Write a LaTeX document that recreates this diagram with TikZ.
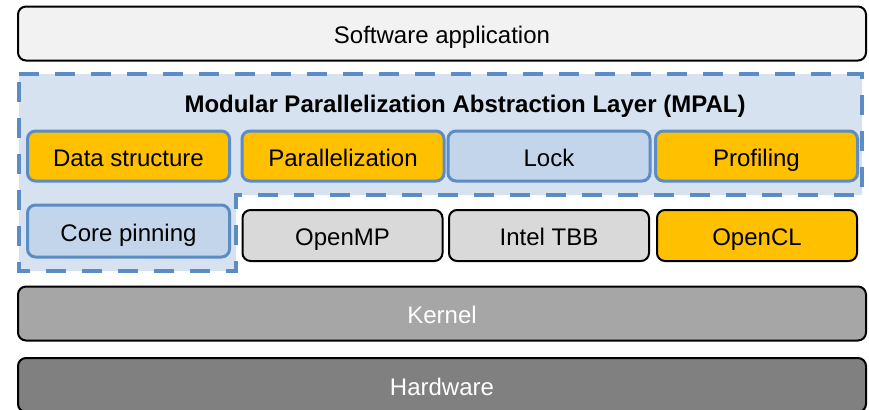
\documentclass[tikz,border=0pt]{standalone}
\usepackage{fontspec}
\setmainfont{Liberation Sans}
\definecolor{mpalline}{HTML}{5B8DC4}
\definecolor{mpalfill}{HTML}{D6E2F0}
\definecolor{lockfill}{HTML}{C3D5EA}
\definecolor{gold}{HTML}{FFC000}
\tikzset{
  boxtext/.style={font=\fontsize{12}{14}\selectfont, text height=12pt, text depth=2pt},
  layer/.style={boxtext, rectangle, rounded corners=4pt, draw=black, line width=1pt, minimum width=424pt, minimum height=27pt},
  mpalbox/.style={boxtext, rectangle, rounded corners=4pt, draw=mpalline, line width=1.5pt, minimum width=101pt, minimum height=25pt},
  libbox/.style={boxtext, rectangle, rounded corners=4pt, draw=black, line width=1pt, minimum width=100pt, minimum height=25.5pt},
}
\begin{document}
\begin{tikzpicture}[x=0.5pt, y=-0.5pt]
\useasboundingbox (0,0) rectangle (869,409);
% MPAL region
\path[fill=mpalfill, draw=mpalline, line width=2pt, dash pattern=on 10pt off 8pt]
  (19,74) -- (862,74) -- (862,195) -- (236,195) -- (236,271) -- (19,271) -- cycle;
\node[font=\bfseries\fontsize{12}{14}\selectfont] (Title) at (465,106) {Modular Parallelization Abstraction Layer (MPAL)};

\node[layer, fill=black!5] (App) at (442,33.5) {Software application};

\node[mpalbox, fill=gold] (Data) at (128.5,156) {Data structure};
\node[mpalbox, fill=gold] (Par) at (343,156) {Parallelization};
\node[mpalbox, fill=lockfill] (Lock) at (549,156) {Lock};
\node[mpalbox, fill=gold] (Prof) at (756.5,156) {Profiling};
\node[mpalbox, fill=lockfill, minimum height=26pt] (Pin) at (128.5,231) {Core pinning};

\node[libbox, fill=black!15] (OMP) at (342.5,235.5) {OpenMP};
\node[libbox, fill=black!15] (TBB) at (549,235.5) {Intel TBB};
\node[libbox, fill=gold] (OCL) at (757,235.5) {OpenCL};

\node[layer, fill=black!35, text=white] (Kernel) at (442,313.5) {Kernel};
\node[layer, fill=black!50, text=white] (HW) at (442,385) {Hardware};
\end{tikzpicture}
\end{document}
